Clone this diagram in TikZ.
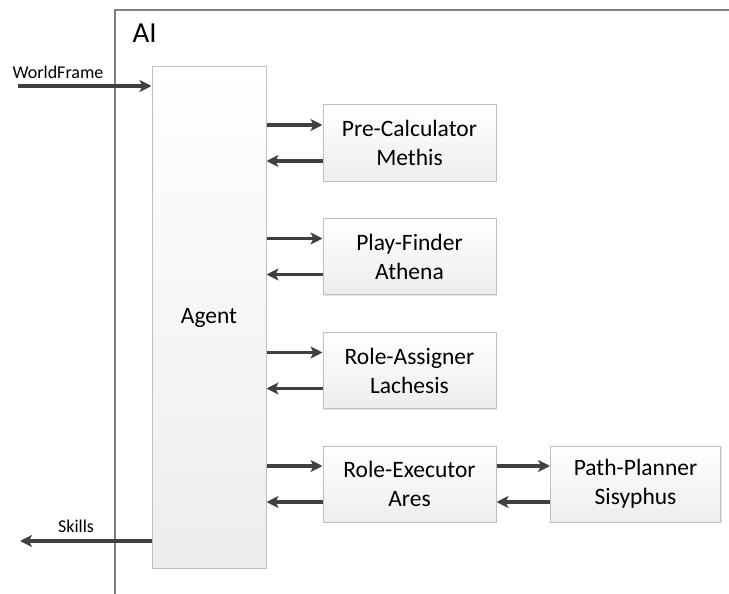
\documentclass[tikz,border=0pt]{standalone}
\usepackage{fontspec}
\setmainfont{Carlito}
\usetikzlibrary{positioning,calc,arrows.meta,shadows}

\begin{document}
\begin{tikzpicture}[x=1pt,y=-1pt,
  block/.style={draw=gray!50,line width=1pt,top color=white,bottom color=gray!14,
    drop shadow={opacity=0.2,shadow xshift=1pt,shadow yshift=-1pt},
    align=center,font=\fontsize{23.5}{29}\selectfont,inner sep=0pt},
  subblock/.style={block,minimum width=173pt,minimum height=76pt},
  arr/.style={line width=3.4pt,draw=black!75,-{Stealth[length=12pt,width=12pt,inset=3pt]}},
  lbl/.style={font=\fontsize{18}{20}\selectfont,inner sep=1pt}]
\useasboundingbox (0,0) rectangle (729,594);

% AI frame
\draw[gray,line width=2.2pt] (115,600) |- (735,10);
\node[anchor=west,font=\fontsize{29}{32}\selectfont] (ai) at (129,33) {AI};

% blocks
\node[block,minimum width=114pt,minimum height=501pt] (agent) at (209,317.5) {Agent};
\node[subblock] (pc) at (409.5,143) {Pre-Calculator\\Methis};
\node[subblock] (pf) at (409.5,256.5) {Play-Finder\\Athena};
\node[subblock] (ra) at (409.5,370.5) {Role-Assigner\\Lachesis};
\node[subblock] (re) at (409.5,484) {Role-Executor\\Ares};
\node[subblock,minimum width=170pt] (pp) at (635.5,484) {Path-Planner\\Sisyphus};

% agent <-> modules
\foreach \n in {pc,pf,ra,re}{
  \draw[arr] ($(agent.east |- \n.west)+(0,-18)$) -- ($(\n.west)+(0,-18)$);
  \draw[arr] ($(\n.west)+(0,18)$) -- ($(agent.east |- \n.west)+(0,18)$);
}
\draw[arr] ($(re.east)+(0,-18)$) -- ($(pp.west)+(0,-18)$);
\draw[arr] ($(pp.west)+(0,18)$) -- ($(re.east)+(0,18)$);

% in / out
\coordinate (wf) at (18,86);
\coordinate (sk) at (20,541);
\draw[arr] (wf) -- (wf -| agent.west);
\node[lbl,anchor=south] (wflbl) at (58,80) {WorldFrame};
\draw[arr] (sk -| agent.west) -- (sk);
\node[lbl,anchor=south] (sklbl) at (76,534) {Skills};
\end{tikzpicture}
\end{document}
